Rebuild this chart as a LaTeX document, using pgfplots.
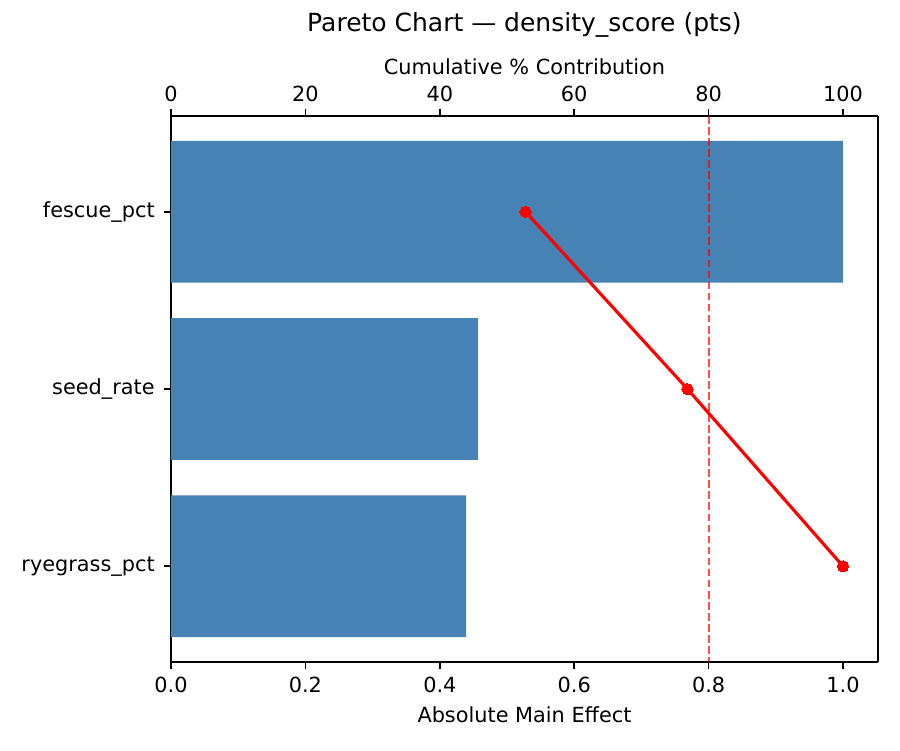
\documentclass[border=0pt]{standalone}
\usepackage{pgfplots}
\pgfplotsset{compat=1.18}
\usepackage{fontspec}
\setmainfont{DejaVu Sans}
\definecolor{steelblue}{HTML}{4682B4}

\begin{document}
\begin{tikzpicture}
% page frame: 900x750 px at 0.48pt/px, axis box 171..878 x 116..662 px
\path (-82.08pt,-42.24pt) rectangle (349.92pt,317.76pt);
\pgfplotsset{
  paretobase/.style={
    at={(0,0)}, anchor=south west,
    scale only axis, width=339.36pt, height=262.08pt,
    ymin=-0.54, ymax=2.54, y dir=reverse,
    tick align=outside, major tick length=3.5pt,
    every tick/.style={black, line width=0.8pt},
    axis line style={line width=0.8pt},
    tick label style={font=\fontsize{10}{12}\selectfont},
    label style={font=\fontsize{10}{12}\selectfont},
    /pgf/number format/assume math mode=true,
  },
}
\begin{axis}[
    paretobase,
    xmin=0, xmax=1.052,
    xtick={0,0.2,0.4,0.6,0.8,1.0},
    xticklabel style={/pgf/number format/.cd, fixed, fixed zerofill, precision=1},
    ytick={0,1,2},
    yticklabels={fescue\_pct, seed\_rate, ryegrass\_pct},
    yticklabel style={xshift=-0.8pt},
    xlabel={Absolute Main Effect},
    xlabel style={at={(rel axis cs:0.5,0)}, anchor=center, yshift=-25.4pt},
    axis x line*=bottom,
    axis y line*=left,
  ]
  \addplot[xbar, bar width=0.8, fill=steelblue, draw=none, bar shift=0pt]
    coordinates {(1.000,0) (0.457,1) (0.439,2)};
\end{axis}
\begin{axis}[
    paretobase,
    xmin=0, xmax=105.2,
    xtick={0,20,40,60,80,100},
    ytick=\empty,
    xlabel={Cumulative \% Contribution},
    xlabel style={at={(rel axis cs:0.5,1)}, anchor=center, yshift=23.5pt},
    axis x line*=top,
    axis y line*=right,
    title={Pareto Chart — density\_score (pts)},
    title style={font=\fontsize{12}{14}\selectfont, at={(rel axis cs:0.5,1)},
                 anchor=center, yshift=37.9pt},
  ]
  \addplot[red, line width=1.5pt, mark=*, mark size=2.7pt,
           mark options={fill=red, draw=red, line width=0pt}]
    coordinates {(52.75,0) (76.85,1) (100,2)};
  \addplot[red, opacity=0.7, line width=1pt, dash pattern=on 3.7pt off 1.6pt]
    coordinates {(80,-0.54) (80,2.54)};
\end{axis}
\end{tikzpicture}
\end{document}
